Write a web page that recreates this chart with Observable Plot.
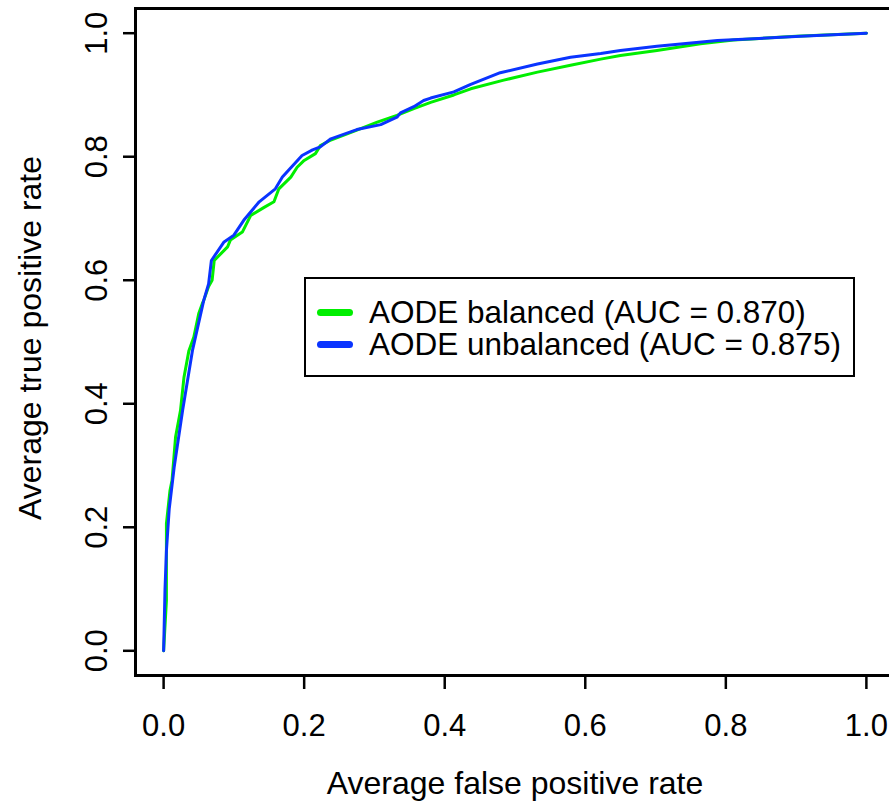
<!DOCTYPE html>
<html>
<head>
<meta charset="utf-8">
<script src="https://cdn.jsdelivr.net/npm/d3@7"></script>
<script src="https://cdn.jsdelivr.net/npm/@observablehq/plot@0.6"></script>
<style>
  html, body { margin: 0; padding: 0; background: #fff; overflow: hidden; }
  #wrap { position: relative; width: 889px; height: 808px; overflow: hidden; font-family: "Liberation Sans", Arial, Helvetica, sans-serif; }
  #legend { position: absolute; left: 304px; top: 277px; width: 547px; height: 96px; border: 2.5px solid #000; background: #fff; }
  .row { position: absolute; left: 0; height: 31px; line-height: 31px; display: flex; align-items: center; font-size: 31.5px; color: #000; white-space: nowrap; }
  .sw { display: inline-block; width: 36px; height: 7px; border-radius: 4px; margin-left: 11px; margin-right: 16px; }
</style>
</head>
<body>
<div id="wrap"><div id="chart"></div>
<div id="legend"></div>
</div>
<script>
// Series names and colours
const seriesNames = ["AODE balanced (AUC = 0.870)", "AODE unbalanced (AUC = 0.875)"];
const seriesColors = ["#00ee00", "#0a34ff"];

// AODE balanced ROC (green)
const balancedFpr = [0, 0.004, 0.004, 0.009, 0.012, 0.017, 0.024, 0.029, 0.036, 0.043, 0.050, 0.055, 0.057, 0.064, 0.069, 0.072, 0.091, 0.095, 0.112, 0.124, 0.143, 0.157, 0.164, 0.181, 0.190, 0.200, 0.216, 0.223, 0.238, 0.275, 0.304, 0.332, 0.356, 0.380, 0.413, 0.437, 0.484, 0.532, 0.579, 0.622, 0.650, 0.702, 0.764, 0.811, 0.900, 1.0];
const balancedTpr = [0, 0.081, 0.206, 0.259, 0.276, 0.346, 0.389, 0.443, 0.486, 0.508, 0.546, 0.562, 0.567, 0.590, 0.600, 0.632, 0.654, 0.665, 0.678, 0.705, 0.718, 0.727, 0.748, 0.767, 0.783, 0.794, 0.805, 0.818, 0.827, 0.843, 0.856, 0.867, 0.878, 0.888, 0.900, 0.910, 0.924, 0.937, 0.948, 0.958, 0.964, 0.972, 0.983, 0.989, 0.995, 1.0];

// AODE unbalanced ROC (blue)
const unbalancedFpr = [0, 0.002, 0.004, 0.008, 0.015, 0.027, 0.041, 0.057, 0.064, 0.068, 0.086, 0.100, 0.114, 0.136, 0.159, 0.169, 0.197, 0.212, 0.223, 0.238, 0.275, 0.309, 0.332, 0.337, 0.356, 0.370, 0.380, 0.413, 0.437, 0.479, 0.532, 0.579, 0.622, 0.650, 0.702, 0.788, 0.906, 1.0];
const unbalancedTpr = [0, 0.100, 0.162, 0.230, 0.297, 0.389, 0.486, 0.567, 0.594, 0.632, 0.662, 0.673, 0.697, 0.727, 0.748, 0.767, 0.802, 0.811, 0.816, 0.829, 0.844, 0.852, 0.864, 0.871, 0.881, 0.891, 0.895, 0.905, 0.917, 0.936, 0.950, 0.961, 0.967, 0.972, 0.979, 0.988, 0.995, 1.0];

// Tick values
const xTicks = [0, 0.2, 0.4, 0.6, 0.8, 1.0];
const yTicks = [0, 0.2, 0.4, 0.6, 0.8, 1.0];
const xTitle = "Average false positive rate";
const yTitle = "Average true positive rate";

const rows = [];
balancedFpr.forEach((f, i) => rows.push({fpr: f, tpr: balancedTpr[i], s: seriesNames[0]}));
unbalancedFpr.forEach((f, i) => rows.push({fpr: f, tpr: unbalancedTpr[i], s: seriesNames[1]}));

const font = "Liberation Sans, Arial, Helvetica, sans-serif";
const chart = Plot.plot({
  width: 889,
  height: 808,
  marginLeft: 135,
  marginRight: -5,
  marginTop: 8,
  marginBottom: 133,
  style: {fontFamily: font, fontSize: "31px", background: "#fff", color: "#000"},
  x: {domain: [-0.04, 1.04]},
  y: {domain: [-0.04, 1.04]},
  color: {domain: seriesNames, range: seriesColors},
  marks: [
    Plot.line(rows, {x: "fpr", y: "tpr", z: "s", stroke: "s", strokeWidth: 3, strokeLinejoin: "round", strokeLinecap: "round"}),
    Plot.frame({stroke: "#000", strokeWidth: 3}),
    Plot.axisX(xTicks, {tickSize: 14, tickPadding: 24, strokeWidth: 2.5, fontSize: 31, tickFormat: d3.format(".1f"), label: null}),
    Plot.axisY(yTicks, {tickSize: 12, strokeWidth: 2.5, text: null, label: null}),
    Plot.text(yTicks, {y: d => d, frameAnchor: "left", dx: -38, rotate: -90, text: d => d3.format(".1f")(d), fontSize: 31, lineAnchor: "middle", textAnchor: "middle"}),
    Plot.text([xTitle], {frameAnchor: "bottom", dy: 108, text: d => d, fontSize: 32, lineAnchor: "middle", textAnchor: "middle"}),
    Plot.text([yTitle], {frameAnchor: "left", dx: -105, dy: -4, rotate: -90, text: d => d, fontSize: 32, lineAnchor: "middle", textAnchor: "middle"})
  ]
});
document.getElementById("chart").appendChild(chart);

const leg = document.getElementById("legend");
seriesNames.forEach((name, i) => {
  const r = document.createElement("div");
  r.className = "row";
  r.style.top = (18 + i * 32) + "px";
  const sw = document.createElement("span");
  sw.className = "sw";
  sw.style.background = seriesColors[i];
  r.appendChild(sw);
  r.appendChild(document.createTextNode(name));
  leg.appendChild(r);
});
</script>
</body>
</html>
